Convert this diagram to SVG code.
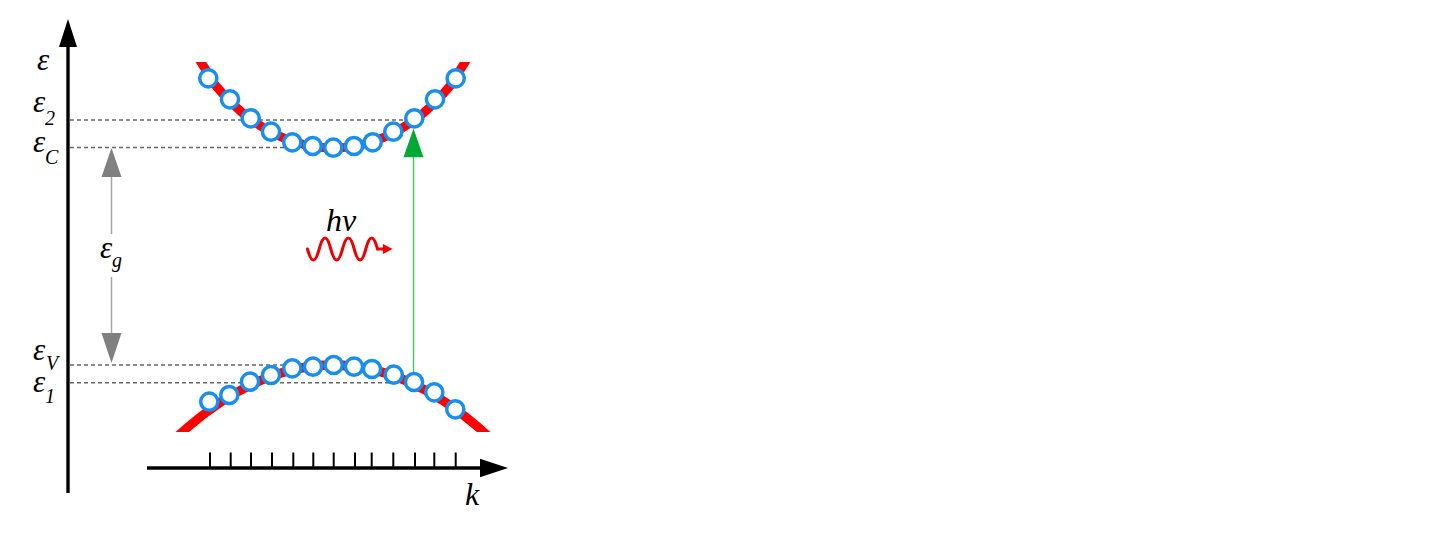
<svg xmlns="http://www.w3.org/2000/svg" width="1449" height="549" viewBox="0 0 1449 549">
<style>
.lbl{font-family:"Liberation Serif","Times New Roman",serif;font-style:italic;fill:#000}
.main{font-size:31px}
.sub{font-size:20px}
.dash{stroke:#666;stroke-width:1.5;stroke-dasharray:4 3;fill:none}
.band{stroke:#ff0000;stroke-width:9;fill:none;stroke-linejoin:round}
.dot{fill:#fff;stroke:#168ff0;stroke-width:3.5}
.tick{stroke:#000;stroke-width:2}
</style>
<defs>
<clipPath id="clipUp"><rect x="150" y="62" width="360" height="120"/></clipPath>
<clipPath id="clipLow"><rect x="150" y="340" width="360" height="92"/></clipPath>
</defs>
<rect x="0" y="0" width="1449" height="549" fill="#fff"/>

<g id="levels">
<line class="dash" x1="70" y1="120" x2="405" y2="120"/>
<line class="dash" x1="70" y1="147.5" x2="300" y2="147.5"/>
<line class="dash" x1="70" y1="365" x2="300" y2="365"/>
<line class="dash" x1="70" y1="382.7" x2="395" y2="382.7"/>
</g>

<g id="axes">
<line x1="68" y1="46" x2="68" y2="493" stroke="#000" stroke-width="3.4"/>
<polygon points="68,19 59,47 77,47" fill="#000"/>
<line x1="147" y1="468" x2="482" y2="468" stroke="#000" stroke-width="3.4"/>
<polygon points="508,468 480,458.8 480,477.2" fill="#000"/>
<g id="ticks">
<line class="tick" x1="210" y1="452.5" x2="210" y2="468"/>
<line class="tick" x1="230.7" y1="452.5" x2="230.7" y2="468"/>
<line class="tick" x1="251" y1="452.5" x2="251" y2="468"/>
<line class="tick" x1="272" y1="452.5" x2="272" y2="468"/>
<line class="tick" x1="293.3" y1="452.5" x2="293.3" y2="468"/>
<line class="tick" x1="313.3" y1="452.5" x2="313.3" y2="468"/>
<line class="tick" x1="333.7" y1="452.5" x2="333.7" y2="468"/>
<line class="tick" x1="355" y1="452.5" x2="355" y2="468"/>
<line class="tick" x1="371.7" y1="452.5" x2="371.7" y2="468"/>
<line class="tick" x1="393.3" y1="452.5" x2="393.3" y2="468"/>
<line class="tick" x1="415" y1="452.5" x2="415" y2="468"/>
<line class="tick" x1="434.3" y1="452.5" x2="434.3" y2="468"/>
<line class="tick" x1="455.7" y1="452.5" x2="455.7" y2="468"/>
</g>
</g>

<g id="conduction-band">
<polyline class="band" clip-path="url(#clipUp)" points="188,40 197,56 205,68.5 213,82.5 223,94 233,104.2 243,113.4 253,120.9 263,127.5 273,133 283,137.7 293,141.4 303,144.3 313,146.4 323,147.6 333,148 343,147.6 353,146.4 363,144.3 373,141.4 383,137.7 393,133 403,127.5 413,120.9 423,113.4 433,104.2 443,94 453,82.5 461,68.5 469,56 478,40"/>
<circle class="dot" cx="208.3" cy="78.3" r="8.6"/>
<circle class="dot" cx="230" cy="99.3" r="8.6"/>
<circle class="dot" cx="250.7" cy="118.3" r="8.6"/>
<circle class="dot" cx="271" cy="131.7" r="8.6"/>
<circle class="dot" cx="292.3" cy="142.3" r="8.6"/>
<circle class="dot" cx="312.7" cy="146" r="8.6"/>
<circle class="dot" cx="333.3" cy="147.7" r="8.6"/>
<circle class="dot" cx="354" cy="146" r="8.6"/>
<circle class="dot" cx="372.7" cy="142.3" r="8.6"/>
<circle class="dot" cx="393.3" cy="131.7" r="8.6"/>
<circle class="dot" cx="414.3" cy="118.3" r="8.6"/>
<circle class="dot" cx="435" cy="99.3" r="8.6"/>
<circle class="dot" cx="455.7" cy="78.3" r="8.6"/>
</g>

<g id="connectors">
<g id="gap-arrow">
<line x1="111.5" y1="176" x2="111.5" y2="234" stroke="#a6a6a6" stroke-width="1.5"/>
<line x1="111.5" y1="277" x2="111.5" y2="334" stroke="#a6a6a6" stroke-width="1.5"/>
<polygon points="111.5,148 101.5,177 121.5,177" fill="#808080"/>
<polygon points="111.5,363 101.5,333 121.5,333" fill="#808080"/>
</g>
<g id="transition-arrow">
<line x1="413.5" y1="156" x2="413.5" y2="375" stroke="#45c45f" stroke-width="1.4"/>
<polygon points="413.5,128.5 403.5,157.3 423.5,157.3" fill="#00a933"/>
</g>
</g>

<g id="valence-band">
<path class="band" clip-path="url(#clipLow)" d="M173.5,440 Q333,290 492.5,440"/>
<circle class="dot" cx="209.3" cy="401.7" r="8.6"/>
<circle class="dot" cx="229.3" cy="395" r="8.6"/>
<circle class="dot" cx="250" cy="381.7" r="8.6"/>
<circle class="dot" cx="271" cy="375" r="8.6"/>
<circle class="dot" cx="292.3" cy="368.3" r="8.6"/>
<circle class="dot" cx="313" cy="366.7" r="8.6"/>
<circle class="dot" cx="333.7" cy="365" r="8.6"/>
<circle class="dot" cx="354" cy="366.7" r="8.6"/>
<circle class="dot" cx="372" cy="369" r="8.6"/>
<circle class="dot" cx="393.7" cy="374.7" r="8.6"/>
<circle class="dot" cx="414" cy="382" r="8.6"/>
<circle class="dot" cx="434.3" cy="392.3" r="8.6"/>
<circle class="dot" cx="455.3" cy="409.3" r="8.6"/>
</g>

<g id="photon">
<path d="M307.5,249 C311.4,263.7 315.3,263.7 319.2,249 C323.1,234.3 327,234.3 330.8,249 C334.7,263.7 338.6,263.7 342.5,249 C346.4,234.3 350.3,234.3 354.2,249 C358.1,263.7 362,263.7 365.8,249 C369.7,234.3 373.6,234.3 377.5,249 L385,249" fill="none" stroke="#ee0000" stroke-width="3" stroke-linecap="round"/>
<polygon points="383,244 392.5,249 383,254" fill="#ee0000"/>
<text class="lbl" x="326" y="231" font-size="32">hν</text>
</g>

<g id="labels">
<text class="lbl main" x="37" y="70">ε</text>
<text class="lbl main" x="33" y="112">ε<tspan class="sub" x="45" y="125">2</tspan></text>
<text class="lbl main" x="33" y="152">ε<tspan class="sub" x="45" y="164">C</tspan></text>
<text class="lbl main" x="100" y="258">ε<tspan class="sub" x="112" y="267">g</tspan></text>
<text class="lbl main" x="33" y="360">ε<tspan class="sub" x="46" y="370">V</tspan></text>
<text class="lbl main" x="33" y="392">ε<tspan class="sub" x="45" y="403">1</tspan></text>
<text class="lbl" x="465" y="505" font-size="32">k</text>
</g>
</svg>
